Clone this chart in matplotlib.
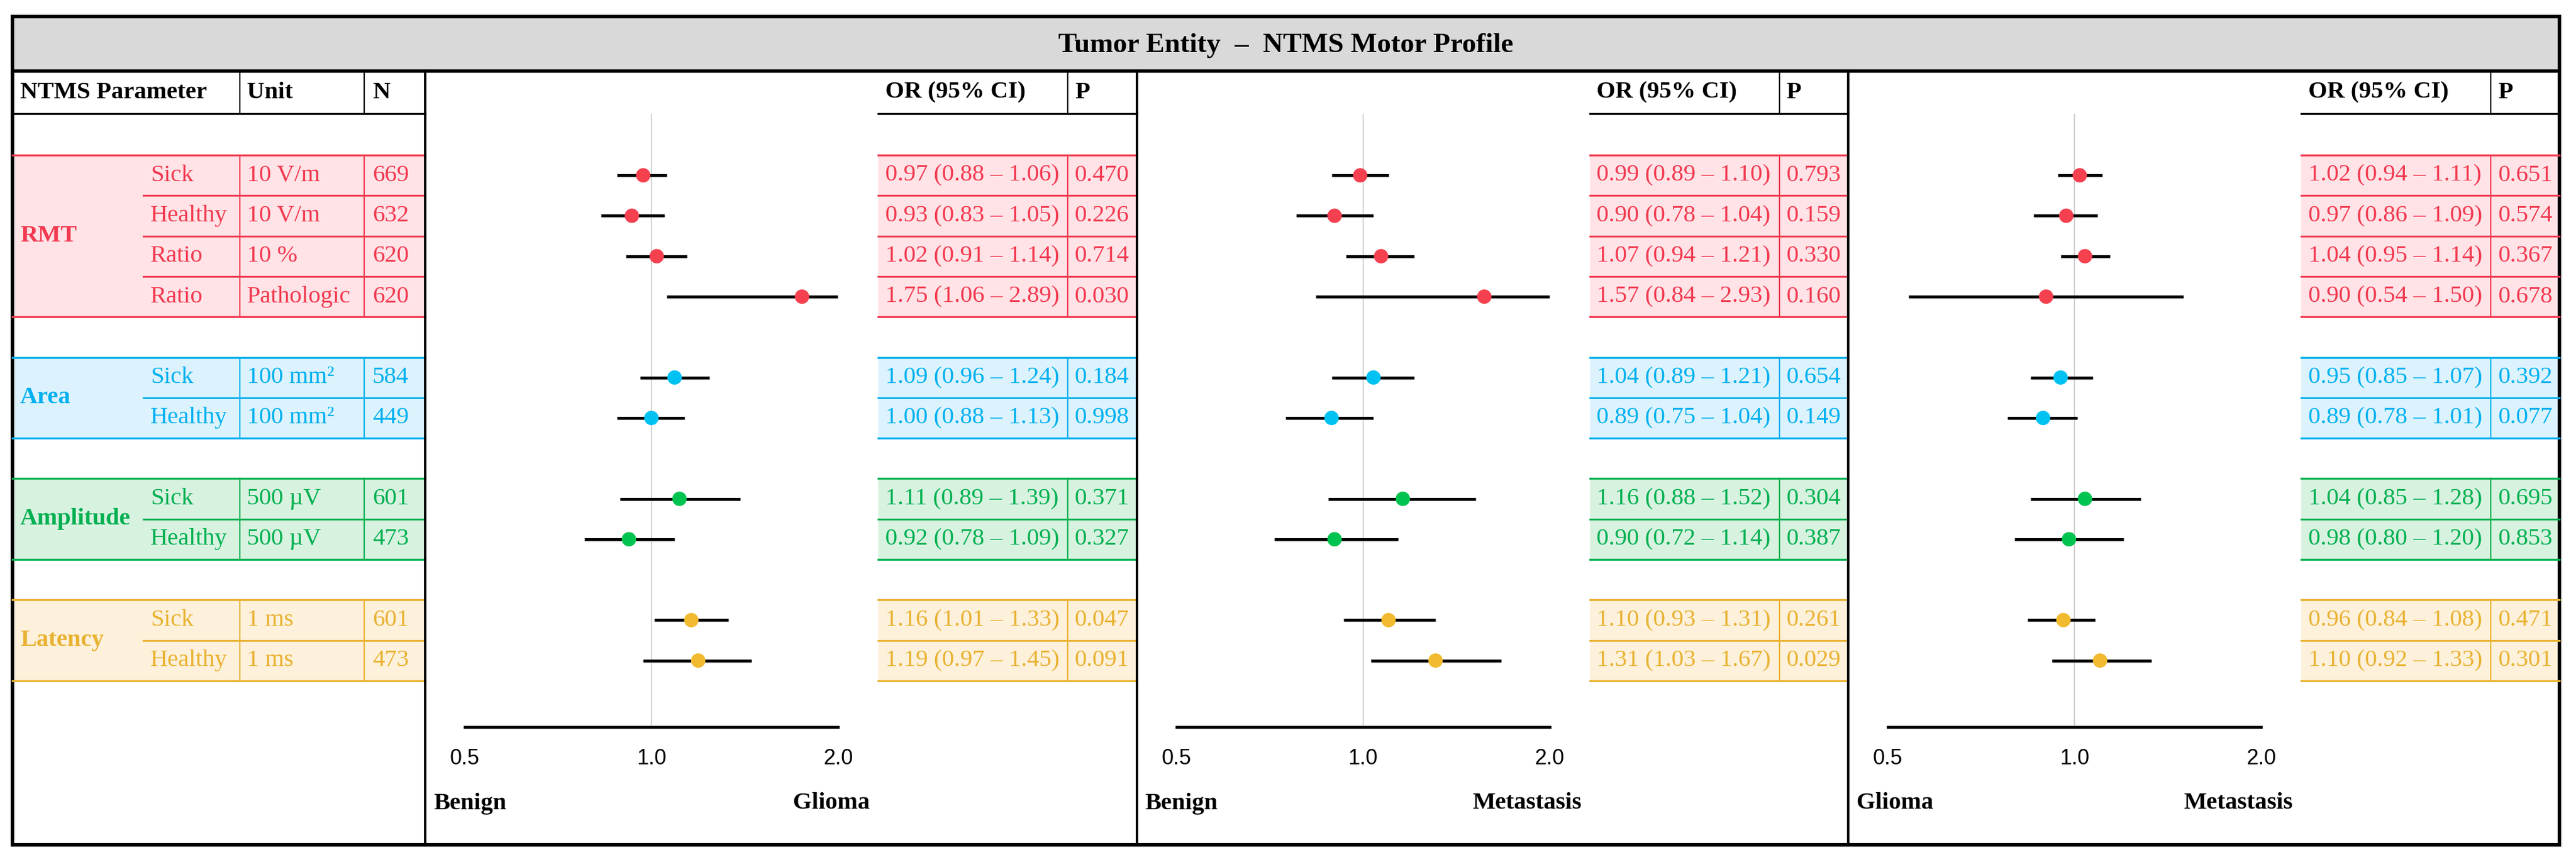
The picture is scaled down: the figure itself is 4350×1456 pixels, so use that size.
import numpy as np
import matplotlib.pyplot as plt
from matplotlib.patches import Rectangle
from matplotlib.ticker import NullLocator

plt.rcParams['font.family'] = ['Liberation Serif', 'DejaVu Serif']

# ---- data ----
title = "Tumor Entity  –  NTMS Motor Profile"
head_left = ["NTMS Parameter", "Unit", "N"]
head_right = ["OR (95% CI)", "P"]

groups = ["RMT", "Area", "Amplitude", "Latency"]
row_group = [0, 0, 0, 0, 1, 1, 2, 2, 3, 3]
params = ["Sick", "Healthy", "Ratio", "Ratio", "Sick", "Healthy", "Sick", "Healthy", "Sick", "Healthy"]
units = ["10 V/m", "10 V/m", "10 %", "Pathologic", "100 mm²", "100 mm²",
         "500 µV", "500 µV", "1 ms", "1 ms"]
n_pat = [669, 632, 620, 620, 584, 449, 601, 473, 601, 473]

# Benign vs Glioma
or1 = [0.97, 0.93, 1.02, 1.75, 1.09, 1.00, 1.11, 0.92, 1.16, 1.19]
lo1 = [0.88, 0.83, 0.91, 1.06, 0.96, 0.88, 0.89, 0.78, 1.01, 0.97]
hi1 = [1.06, 1.05, 1.14, 2.89, 1.24, 1.13, 1.39, 1.09, 1.33, 1.45]
p1 = ["0.470", "0.226", "0.714", "0.030", "0.184", "0.998", "0.371", "0.327", "0.047", "0.091"]

# Benign vs Metastasis
or2 = [0.99, 0.90, 1.07, 1.57, 1.04, 0.89, 1.16, 0.90, 1.10, 1.31]
lo2 = [0.89, 0.78, 0.94, 0.84, 0.89, 0.75, 0.88, 0.72, 0.93, 1.03]
hi2 = [1.10, 1.04, 1.21, 2.93, 1.21, 1.04, 1.52, 1.14, 1.31, 1.67]
p2 = ["0.793", "0.159", "0.330", "0.160", "0.654", "0.149", "0.304", "0.387", "0.261", "0.029"]

# Glioma vs Metastasis
or3 = [1.02, 0.97, 1.04, 0.90, 0.95, 0.89, 1.04, 0.98, 0.96, 1.10]
lo3 = [0.94, 0.86, 0.95, 0.54, 0.85, 0.78, 0.85, 0.80, 0.84, 0.92]
hi3 = [1.11, 1.09, 1.14, 1.50, 1.07, 1.01, 1.28, 1.20, 1.08, 1.33]
p3 = ["0.651", "0.574", "0.367", "0.678", "0.392", "0.077", "0.695", "0.853", "0.471", "0.301"]

panel_left_lab = ["Benign", "Benign", "Glioma"]
panel_right_lab = ["Glioma", "Metastasis", "Metastasis"]
tick_vals = [0.5, 1.0, 2.0]
tick_labels = ["0.5", "1.0", "2.0"]

line_col = ["#f2394f", "#00b0f0", "#00b050", "#e9b232"]
fill_col = ["#ffe3e7", "#dcf3fd", "#d8f2e0", "#fdf1db"]
dot_col = ["#f5404f", "#00c2f2", "#00c350", "#f2ba2e"]

panels = [(or1, lo1, hi1, p1), (or2, lo2, hi2, p2), (or3, lo3, hi3, p3)]

# ---- layout (pixels) ----
W, H = 4350, 1456
X_L, X_R, Y_T, Y_B = 21, 4322, 28, 1427
Y_TITLE, Y_HEAD, Y_AXIS = 120, 192, 1228
ROW0, PITCH = 262, 68.3
COL_SUB, COL_UNIT, COL_N, TABLE_R = 242, 405, 615, 718
panel_l = [718, 1919.5, 3121]
panel_r = [1919.5, 3121, X_R]
OR_OFF, P_OFF = 765, 1085
FS = 29.5

# row slots with an empty row between groups
slots = []
s = 0
for i in range(len(params)):
    if i > 0 and row_group[i] != row_group[i - 1]:
        s += 1
    slots.append(s)
    s += 1


def ytop(k):
    return ROW0 + PITCH * k


def ymid(k):
    return ROW0 + PITCH * (k + 0.5)


fig = plt.figure(figsize=(W / 100, H / 100), dpi=100)
bg = fig.add_axes([0, 0, 1, 1])
bg.set_xlim(0, W)
bg.set_ylim(H, 0)
bg.axis("off")

# title band
bg.add_patch(Rectangle((X_L, Y_T), X_R - X_L, Y_TITLE - Y_T, fc="#d9d9d9", ec="none"))
bg.text((X_L + X_R) / 2, 77, title, ha="center", va="center", fontsize=34, weight="bold")

# header
hy = (Y_TITLE + Y_HEAD) / 2
for x, t in zip([34, COL_UNIT + 12, COL_N + 14], head_left):
    bg.text(x, hy, t, ha="left", va="center", fontsize=FS, weight="bold")
bg.plot([X_L, TABLE_R], [Y_HEAD, Y_HEAD], color="black", lw=2.4)
for x in [COL_UNIT, COL_N]:
    bg.plot([x, x], [Y_TITLE, Y_HEAD], color="black", lw=1.6)
for pl, pr in zip(panel_l, panel_r):
    bg.text(pl + OR_OFF + 12, hy, head_right[0], ha="left", va="center", fontsize=FS, weight="bold")
    bg.text(pl + P_OFF + 12, hy, head_right[1], ha="left", va="center", fontsize=FS, weight="bold")
    bg.plot([pl + OR_OFF, pr], [Y_HEAD, Y_HEAD], color="black", lw=2.4)
    bg.plot([pl + P_OFF, pl + P_OFF], [Y_TITLE, Y_HEAD], color="black", lw=1.6)

# group bands
for g, name in enumerate(groups):
    idx = [i for i in range(len(params)) if row_group[i] == g]
    top, bot = ytop(slots[idx[0]]), ytop(slots[idx[-1]] + 1)
    lc, fc = line_col[g], fill_col[g]
    segs = [(X_L, TABLE_R)] + [(pl + OR_OFF, pr) for pl, pr in zip(panel_l, panel_r)]
    for x0, x1 in segs:
        bg.add_patch(Rectangle((x0, top), x1 - x0, bot - top, fc=fc, ec="none"))
        bg.plot([x0, x1], [top, top], color=lc, lw=2.4)
        bg.plot([x0, x1], [bot, bot], color=lc, lw=2.4)
    for i in idx[1:]:
        y = ytop(slots[i])
        bg.plot([COL_SUB, TABLE_R], [y, y], color=lc, lw=2.2)
        for pl, pr in zip(panel_l, panel_r):
            bg.plot([pl + OR_OFF, pr], [y, y], color=lc, lw=2.2)
    for x in [COL_UNIT, COL_N] + [pl + P_OFF for pl in panel_l]:
        bg.plot([x, x], [top, bot], color=lc, lw=1.6)
    bg.text(34, (top + bot) / 2, name, ha="left", va="center", fontsize=FS,
            weight="bold", color=lc)
    for i in idx:
        y = ymid(slots[i])
        bg.text(COL_SUB + 12, y, params[i], ha="left", va="center", fontsize=FS, color=lc)
        bg.text(COL_UNIT + 12, y, units[i], ha="left", va="center", fontsize=FS, color=lc)
        bg.text(COL_N + 14, y, str(n_pat[i]), ha="left", va="center", fontsize=FS, color=lc)
        for pl, (o, lo, hi, pv) in zip(panel_l, panels):
            bg.text(pl + OR_OFF + 12, y, f"{o[i]:.2f} ({lo[i]:.2f} – {hi[i]:.2f})",
                    ha="left", va="center", fontsize=FS, color=lc)
            bg.text(pl + P_OFF + 12, y, pv[i], ha="left", va="center", fontsize=FS, color=lc)

# bottom labels
for pl, a, b in zip(panel_l, panel_left_lab, panel_right_lab):
    bg.text(pl + 14, 1357, a, ha="left", va="center", fontsize=FS, weight="bold")
    bg.text(pl + 751, 1357, b, ha="right", va="center", fontsize=FS, weight="bold")

# frame lines
for x in panel_l:
    bg.plot([x, x], [Y_TITLE, Y_B], color="black", lw=3.0)
bg.plot([X_L, X_R], [Y_TITLE, Y_TITLE], color="black", lw=4.0)
bg.add_patch(Rectangle((X_L, Y_T), X_R - X_L, Y_B - Y_T, fc="none", ec="black", lw=4.3))


# forest plots
def ky(y):
    return (y - ROW0) / PITCH - 0.5


dot_c = [dot_col[g] for g in row_group]
for pl, (o, lo, hi, pv) in zip(panel_l, panels):
    ax = fig.add_axes([(pl + 67) / W, 1 - Y_AXIS / H, 630 / W, (Y_AXIS - Y_HEAD) / H])
    ax.patch.set_alpha(0)
    ax.set_xscale("log", base=2)
    ax.set_xlim(tick_vals[0], tick_vals[-1])
    ax.set_ylim(ky(Y_AXIS), ky(Y_HEAD))
    ax.axvline(1.0, color="#cfcfcf", lw=1.4, zorder=0)
    ax.hlines(slots, lo, hi, color="black", lw=3.6, zorder=2)
    ax.scatter(o, slots, s=17.5 ** 2, c=dot_c, linewidths=0, zorder=3)
    ax.set_xticks(tick_vals)
    ax.set_xticklabels(tick_labels, family=["Liberation Sans", "DejaVu Sans"])
    ax.xaxis.set_minor_locator(NullLocator())
    ax.tick_params(axis="x", length=0, pad=26, labelsize=26)
    ax.set_yticks([])
    for side in ["left", "top", "right"]:
        ax.spines[side].set_visible(False)
    ax.spines["bottom"].set_linewidth(3.4)

fig.savefig("out.png", dpi=100)
